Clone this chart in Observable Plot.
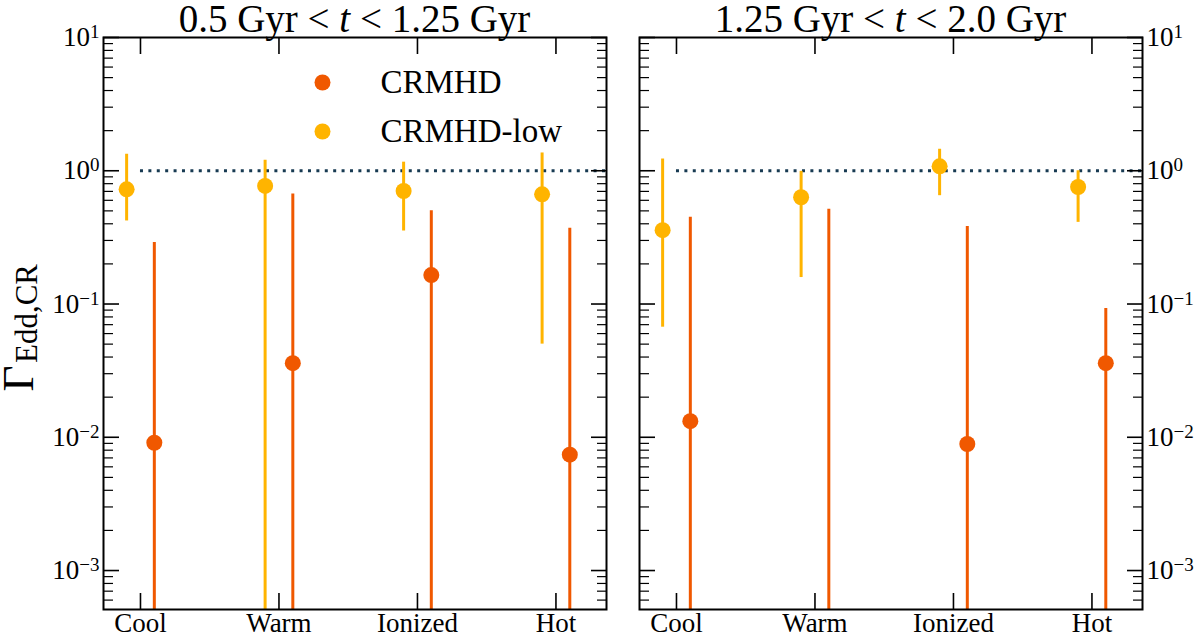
<!DOCTYPE html>
<html>
<head>
<meta charset="utf-8">
<script src="https://cdn.jsdelivr.net/npm/d3@7"></script>
<script src="https://cdn.jsdelivr.net/npm/@observablehq/plot@0.6"></script>
<style>
  body { margin: 0; background: #fff; }
  #wrap { position: relative; width: 1200px; height: 639px; font-family: "Liberation Serif", serif; }
  .panel { position: absolute; top: 0; }
  .title { position: absolute; top: 0px; font-size: 39px; line-height: 38px; text-align: center; white-space: nowrap; color: #000; }
</style>
</head>
<body>
<div id="wrap"></div>
<script>
// categorias y series
const cats = ["Cool", "Warm", "Ionized", "Hot"];
const seriesNames = ["CRMHD", "CRMHD-low"];
const seriesColors = ["#f05800", "#ffb400"];

// panel 1: 0.5 Gyr < t < 1.25 Gyr
const crmhd1 = [0.0091, 0.036, 0.165, 0.0074];
const crmhd1Lo = [1e-4, 1e-4, 1e-4, 1e-4];
const crmhd1Hi = [0.29, 0.67, 0.50, 0.37];
const low1 = [0.725, 0.77, 0.705, 0.665];
const low1Lo = [0.42, 1e-4, 0.353, 0.05];
const low1Hi = [1.33, 1.2, 1.16, 1.36];

// panel 2: 1.25 Gyr < t < 2.0 Gyr
const crmhd2 = [0.0132, 1e-4, 0.0089, 0.036];
const crmhd2Lo = [1e-4, 1e-4, 1e-4, 1e-4];
const crmhd2Hi = [0.448, 0.515, 0.381, 0.0925];
const low2 = [0.358, 0.633, 1.08, 0.755];
const low2Lo = [0.067, 0.158, 0.65, 0.41];
const low2Hi = [1.225, 0.99, 1.45, 1.0];

const yMajor = [1e-3, 1e-2, 1e-1, 1, 10];
const xDomain = [-0.267, 3.365];
const yDomain = [5.1e-4, 10];
const offsets = [0.1, -0.1];

const minorTicks = [];
for (let e = -4; e <= 0; e++) for (let m = 2; m <= 9; m++) {
  const v = m * Math.pow(10, e);
  if (v > yDomain[0] && v < yDomain[1]) minorTicks.push(v);
}

// etiqueta "10^k", el exponente se arma despues con tspan
const fmtPow = d => "10^" + String(Math.round(Math.log10(d))).replace("-", "\u2212");

function rows(s, v, lo, hi) {
  return cats.map((c, i) => ({x: i + offsets[s], v: v[i], lo: lo[i], hi: hi[i]}));
}

function panel(data, o) {
  const marks = [
    Plot.ruleY([1], {x1: 0, x2: xDomain[1], stroke: "#173a52", strokeWidth: 3, strokeDasharray: "3,5.4"})
  ];
  data.forEach((d, s) => {
    marks.push(Plot.ruleX(d, {x: "x", y1: "lo", y2: "hi", stroke: seriesColors[s], strokeWidth: 3, clip: true}));
    marks.push(Plot.dot(d, {x: "x", y: "v", r: 8, fill: seriesColors[s], clip: true}));
  });
  // ticks hacia adentro
  for (const a of ["bottom", "top"]) {
    marks.push(Plot.axisX({anchor: a, ticks: [0, 1, 2, 3], tickSize: -16, strokeWidth: 1.6, tickFormat: () => "", label: null}));
  }
  for (const a of ["left", "right"]) {
    marks.push(Plot.axisY({anchor: a, ticks: yMajor, tickSize: -16, strokeWidth: 1.6, tickFormat: () => "", label: null}));
    marks.push(Plot.axisY({anchor: a, ticks: minorTicks, tickSize: -10, strokeWidth: 1.2, tickFormat: () => "", label: null}));
  }
  marks.push(Plot.axisX({anchor: "bottom", ticks: [0, 1, 2, 3], tickSize: 0, tickPadding: 3, tickFormat: i => cats[i], label: null, fontSize: 27, fill: "black"}));
  marks.push(Plot.axisY({anchor: o.side, ticks: yMajor, tickSize: 0, tickPadding: 4, tickFormat: fmtPow, label: null, fontSize: 27, fill: "black"}));
  if (o.legend) {
    seriesNames.forEach((n, s) => {
      marks.push(Plot.dot([n], {frameAnchor: "top-left", dx: 219, dy: 45 + 49 * s, r: 8, fill: seriesColors[s]}));
      marks.push(Plot.text([n], {frameAnchor: "top-left", dx: 277, dy: 45 + 49 * s, text: d => d, textAnchor: "start", lineAnchor: "middle", fontSize: 33, fill: "black"}));
    });
  }
  if (o.ylabel) {
    marks.push(Plot.text(["\u0393"], {frameAnchor: "left", dx: -85, dy: 55, rotate: -90, textAnchor: "middle", lineAnchor: "middle", fontSize: 45, fill: "black"}));
    marks.push(Plot.text(["Edd,CR"], {frameAnchor: "left", dx: -76, dy: -10, rotate: -90, textAnchor: "middle", lineAnchor: "middle", fontSize: 31, fill: "black"}));
  }
  marks.push(Plot.frame({stroke: "black", strokeWidth: 2}));

  const svg = Plot.plot({
    width: o.width,
    height: 639,
    marginLeft: o.marginLeft,
    marginRight: o.marginRight,
    marginTop: 37,
    marginBottom: 30,
    x: {type: "linear", domain: xDomain},
    y: {type: "log", domain: yDomain},
    style: {fontFamily: "Liberation Serif", fontSize: "27px", background: "transparent", overflow: "visible"},
    marks
  });

  // exponentes como superindice
  d3.select(svg).selectAll("text").each(function() {
    const t = d3.select(this);
    const s = t.text();
    if (!s.startsWith("10^")) return;
    const [base, exp] = s.split("^");
    t.text(base);
    t.append("tspan").attr("dy", "-0.42em").attr("font-size", "19px").text(exp);
  });
  return svg;
}

const wrap = d3.select("#wrap");

const p1 = panel([rows(0, crmhd1, crmhd1Lo, crmhd1Hi), rows(1, low1, low1Lo, low1Hi)],
  {width: 620, marginLeft: 103, marginRight: 14, side: "left", legend: true, ylabel: true});
const p2 = panel([rows(0, crmhd2, crmhd2Lo, crmhd2Hi), rows(1, low2, low2Lo, low2Hi)],
  {width: 580, marginLeft: 19, marginRight: 58, side: "right", legend: false, ylabel: false});

wrap.append("div").attr("class", "panel").style("left", "0px").append(() => p1);
wrap.append("div").attr("class", "panel").style("left", "620px").append(() => p2);

wrap.append("div").attr("class", "title").style("left", "103px").style("width", "503px")
  .html("0.5 Gyr &lt; <i>t</i> &lt; 1.25 Gyr");
wrap.append("div").attr("class", "title").style("left", "639px").style("width", "503px")
  .html("1.25 Gyr &lt; <i>t</i> &lt; 2.0 Gyr");
</script>
</body>
</html>
